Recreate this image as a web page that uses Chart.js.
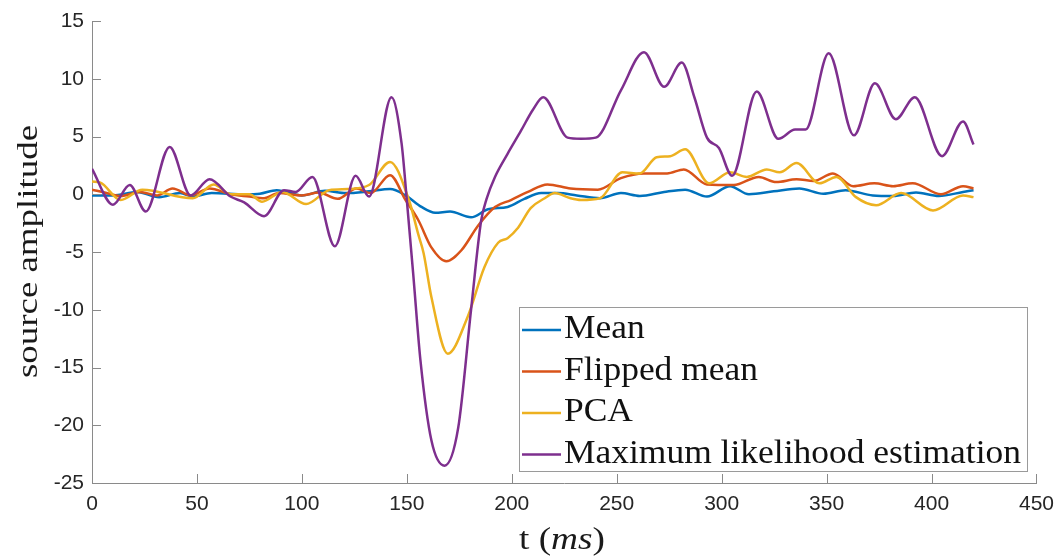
<!DOCTYPE html>
<html>
<head>
<meta charset="utf-8">
<script src="https://cdn.jsdelivr.net/npm/chart.js@4.4.1/dist/chart.umd.min.js"></script>
<style>
  html, body { margin: 0; padding: 0; background: #fff; }
  #wrap { width: 1063px; height: 556px; position: relative; }
</style>
</head>
<body>
<div id="wrap"><canvas id="sourceChart"></canvas></div>
<script>
// values (t in ms, amplitude)
const meanT = [0, 10, 21.5, 32, 42, 48, 57, 73, 80, 88, 100, 111, 121, 132, 142, 149.4, 157, 163.5, 170.6, 180.6, 188.7, 198, 206, 214, 222, 231, 242, 252, 261, 272.6, 282.6, 293, 304, 313, 324.8, 337, 348.5, 359, 372, 381.7, 392.6, 403.5, 415, 420];
const meanV = [-0.1, -0.1, 0.2, -0.25, 0.1, -0.2, 0.1, 0, 0.05, 0.35, -0.1, 0.3, 0.1, 0.25, 0.45, -0.1, -1.1, -1.6, -1.5, -2.0, -1.3, -1.1, -0.4, 0.1, 0.1, -0.1, -0.35, 0.1, -0.15, 0.2, 0.4, -0.2, 0.7, 0, 0.25, 0.5, 0.05, 0.35, -0.1, -0.15, 0.15, -0.15, 0.2, 0.35];

const flipT = [0, 7, 13.7, 22.8, 31, 38.4, 47, 56, 66, 75, 82, 89, 100, 108, 117, 126, 132.8, 142, 149.4, 155.5, 161.7, 168.8, 176, 184, 192, 199.6, 207.7, 217, 228, 241, 252, 263, 274, 282, 293, 305.8, 317.7, 326, 335.7, 343.8, 353, 362.7, 372.7, 381.7, 391, 404.5, 415, 420];
const flipV = [0.4, 0.1, -0.15, 0.2, -0.1, 0.5, -0.1, 0.5, 0, -0.2, -0.35, 0.1, -0.1, 0.15, -0.4, 0.5, 0.1, 1.65, -0.5, -2.25, -4.6, -5.8, -4.85, -2.7, -1.1, -0.5, 0.2, 0.85, 0.5, 0.4, 1.4, 1.8, 1.8, 2.15, 0.85, 0.8, 1.5, 1.05, 1.3, 1.15, 1.8, 0.7, 0.95, 0.7, 0.95, 0, 0.7, 0.5];

const pcaT = [0, 4, 13.7, 24, 48, 58, 66, 75, 81, 90.6, 102, 113, 122, 132, 142, 151, 155.5, 158, 161.7, 169.5, 179, 187, 193.5, 198, 203, 209, 215.7, 220.5, 228, 233, 242, 252.7, 261, 269, 275.5, 282.6, 294, 304, 312, 321.5, 327.6, 335.7, 346.6, 354.7, 364, 373.6, 385.5, 400.7, 415, 420];
const pcaV = [1.1, 1.0, -0.5, 0.4, -0.35, 0.85, 0, 0, -0.65, 0.2, -0.85, 0.35, 0.45, 0.8, 2.8, -0.5, -3.5, -5.1, -8.9, -13.8, -10.6, -6.3, -4.2, -3.8, -2.9, -1.2, -0.35, 0.1, -0.35, -0.5, -0.35, 1.9, 1.8, 3.2, 3.3, 3.9, 0.95, 1.9, 1.5, 2.15, 1.9, 2.7, 0.95, 1.5, -0.25, -0.95, 0.1, -1.4, -0.1, -0.25];

const mleT = [0, 10, 18, 25.6, 37, 47, 56, 66, 72.5, 82, 91.5, 97, 105, 115.7, 125.6, 132, 142.7, 147.5, 150, 153, 156.5, 161.7, 168, 174.5, 180.6, 185.4, 188, 192, 198, 204.4, 210, 215, 226.6, 233, 240, 252, 263, 272.6, 281, 287, 293, 298.7, 305, 316.7, 327, 335, 340, 351, 363, 373, 383, 392, 405, 415, 420];
const mleV = [2.2, -0.9, 0.8, -1.5, 4.1, -0.1, 1.3, -0.2, -0.7, -1.9, 0.35, 0.2, 1.5, -4.5, 1.6, -0.2, 8.4, 4.4, -0.5, -6.8, -14.4, -21.3, -23.5, -20.2, -10, -2.3, -0.4, 1.5, 3.5, 5.5, 7.3, 8.4, 4.9, 4.8, 4.9, 9.0, 12.3, 9.3, 11.4, 8.4, 4.9, 4.0, 1.6, 8.9, 4.8, 5.6, 5.6, 12.2, 5.1, 9.6, 6.5, 8.4, 3.3, 6.3, 4.3];

const seriesNames = ['Mean', 'Flipped mean', 'PCA', 'Maximum likelihood estimation'];
const seriesColors = ['#0072BD', '#D95319', '#EDB120', '#7E2F8E'];
const xTicks = [0, 50, 100, 150, 200, 250, 300, 350, 400, 450];
const yTicks = [-25, -20, -15, -10, -5, 0, 5, 10, 15];

const axisColor = '#8a8a8a';
const serif = '"Liberation Serif", "DejaVu Serif", serif';

function toPoints(ts, vs) {
    return ts.map((t, i) => ({ x: t, y: vs[i] }));
}

// draw text squeezed/stretched to a given width
function fitText(ctx, text, x, y, width) {
    const w = ctx.measureText(text).width;
    ctx.save();
    ctx.translate(x, y);
    ctx.scale(width / w, 1);
    ctx.fillText(text, 0, 0);
    ctx.restore();
}

// inward ticks, axis titles and the boxed legend
const matlabLook = {
    id: 'matlabLook',
    afterDraw(chart) {
        const ctx = chart.ctx;
        const xs = chart.scales.x, ys = chart.scales.y;
        const area = chart.chartArea;

        ctx.save();
        ctx.strokeStyle = axisColor;
        ctx.lineWidth = 1;
        ctx.beginPath();
        xTicks.forEach(v => {
            const px = Math.round(xs.getPixelForValue(v)) + 0.5;
            ctx.moveTo(px, area.bottom);
            ctx.lineTo(px, area.bottom - 9);
        });
        yTicks.forEach(v => {
            const py = Math.round(ys.getPixelForValue(v)) + 0.5;
            ctx.moveTo(area.left, py);
            ctx.lineTo(area.left + 9, py);
        });
        ctx.stroke();

        // x title: "t (ms)" with italic ms
        ctx.fillStyle = '#1a1a1a';
        ctx.textBaseline = 'alphabetic';
        ctx.textAlign = 'left';
        const parts = [['t (', ''], ['ms', 'italic '], [')', '']];
        let total = 0;
        parts.forEach(p => { ctx.font = p[1] + '31px ' + serif; total += ctx.measureText(p[0]).width; });
        const k = 86 / total;
        ctx.save();
        ctx.translate(519, 549);
        ctx.scale(k, 1);
        let x = 0;
        parts.forEach(p => {
            ctx.font = p[1] + '31px ' + serif;
            ctx.fillText(p[0], x, 0);
            x += ctx.measureText(p[0]).width;
        });
        ctx.restore();

        ctx.save();
        ctx.translate(37, 378);
        ctx.rotate(-Math.PI / 2);
        ctx.font = '30px ' + serif;
        fitText(ctx, 'source amplitude', 0, 0, 253);
        ctx.restore();

        // legend
        const box = { left: 519, top: 307, right: 1027, bottom: 471 };
        ctx.fillStyle = '#fff';
        ctx.fillRect(box.left, box.top, box.right - box.left, box.bottom - box.top);
        ctx.strokeStyle = '#9a9a9a';
        ctx.strokeRect(box.left + 0.5, box.top + 0.5, box.right - box.left, box.bottom - box.top);

        ctx.font = '33px ' + serif;
        const squeeze = 457 / ctx.measureText(seriesNames[3]).width;
        seriesNames.forEach((name, i) => {
            const base = 338 + i * 41.5;
            ctx.strokeStyle = seriesColors[i];
            ctx.lineWidth = 2.5;
            ctx.beginPath();
            ctx.moveTo(522, base - 8);
            ctx.lineTo(561, base - 8);
            ctx.stroke();
            ctx.fillStyle = '#111';
            fitText(ctx, name, 564, base, ctx.measureText(name).width * squeeze);
        });
        ctx.restore();
    }
};

const tickFont = { family: '"Liberation Sans", Arial, sans-serif', size: 21 };
const allT = [meanT, flipT, pcaT, mleT];
const allV = [meanV, flipV, pcaV, mleV];

new Chart(document.getElementById('sourceChart').getContext('2d'), {
    type: 'line',
    data: {
        datasets: seriesNames.map((name, i) => ({
            label: name,
            data: toPoints(allT[i], allV[i]),
            borderColor: seriesColors[i],
            backgroundColor: seriesColors[i],
            borderWidth: 2.5,
            pointRadius: 0,
            cubicInterpolationMode: 'monotone',
            order: 4 - i,
        }))
    },
    options: {
        responsive: true,
        maintainAspectRatio: false,
        animation: false,
        layout: { padding: { top: 21, right: 22, left: 0, bottom: 0 } },
        plugins: {
            legend: { display: false },
            tooltip: { enabled: false },
        },
        scales: {
            x: {
                type: 'linear',
                min: 0,
                max: 450,
                ticks: { stepSize: 50, color: '#262626', font: tickFont, padding: 9, maxRotation: 0 },
                grid: { display: false, drawTicks: false },
                border: { color: axisColor },
                afterFit: s => { s.height = 73; },
            },
            y: {
                min: -25,
                max: 15,
                ticks: { stepSize: 5, color: '#262626', font: tickFont, padding: 8 },
                grid: { display: false, drawTicks: false },
                border: { color: axisColor },
                afterFit: s => { s.width = 92; },
            }
        }
    },
    plugins: [matlabLook],
});
</script>
</body>
</html>
